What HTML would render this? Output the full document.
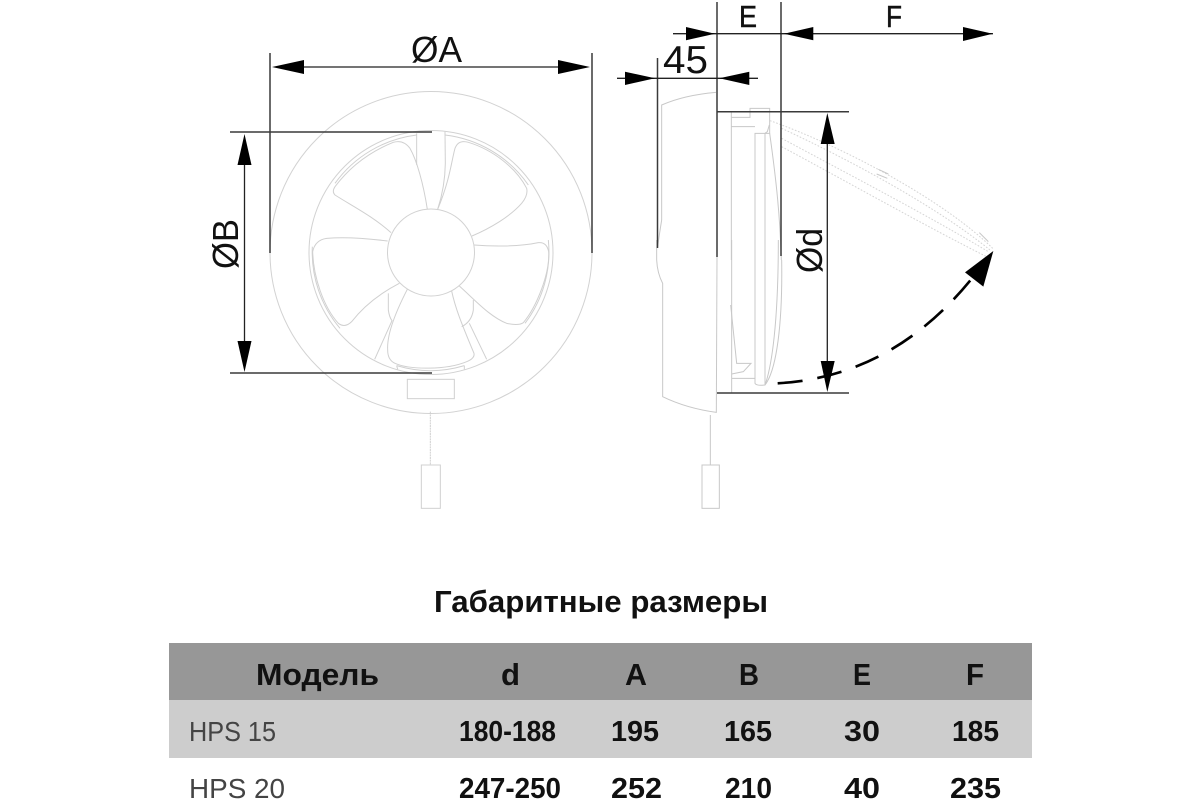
<!DOCTYPE html>
<html><head><meta charset="utf-8"><style>
html,body{margin:0;padding:0;background:#fff;width:1200px;height:800px;overflow:hidden}
svg{display:block}
text{font-family:"Liberation Sans",sans-serif;fill:#111}
.b{font-weight:bold;text-anchor:start;font-size:29px}
.h{font-weight:bold;text-anchor:start;font-size:31px}
.t{font-size:28px;fill:#444}
</style></head><body>
<svg width="1200" height="800" viewBox="0 0 1200 800" xmlns="http://www.w3.org/2000/svg">
<rect width="1200" height="800" fill="#fff"/>

<!-- Front view -->
<g fill="none" stroke="#d2d2d2" stroke-width="1">
<circle cx="431" cy="252.5" r="161"/>
<circle cx="431" cy="252.5" r="43.5"/>
<circle cx="431" cy="252.5" r="122"/>
</g>
<g transform="translate(220,80) scale(.33333)" fill="none" stroke="#d0d0d0" stroke-width="3">
<path d="M622,388 C610,310 590,240 570,205 Q550,178 520,187 C450,215 390,260 345,320 Q335,335 345,345 C400,380 460,410 513,458"/>
<path d="M653,388 C690,300 695,240 705,205 Q715,178 745,187 C820,210 890,265 920,325 Q925,345 905,370 C870,410 810,445 756,468"/>
<path d="M762,495 C820,500 900,500 955,488 Q980,485 986,515 C990,580 950,680 910,728 Q895,738 860,730 C810,710 770,665 718,618"/>
<path d="M695,633 C705,680 720,720 762,820 Q765,835 740,845 C680,870 570,870 525,850 Q503,840 503,810 C500,760 530,690 562,628"/>
<path d="M538,610 C480,640 430,680 395,725 Q375,745 355,730 C310,680 280,590 278,515 Q285,480 320,475 C380,470 440,475 503,483"/>
<path d="M590,160 L590,255 M675,155 L676,250 Q675,320 653,388"/>
<path d="M505,640 L505,690 Q508,712 516,722 L464,838"/>
<path d="M760,660 L760,690 Q755,725 725,740 M748,730 L800,838"/>
<path d="M530,857 L533,868 M733,857 L733,868"/>
<path d="M345,310 A355,355 0 0 1 590,165 M675,165 A355,355 0 0 1 925,315 M985,480 A355,355 0 0 1 915,730 M360,745 A355,355 0 0 1 277,500 M530,857 A355,355 0 0 0 733,857"/>
<rect x="562" y="898" width="141" height="58"/>
<path d="M631,995 L631,1155" stroke-dasharray="6 2"/>
<rect x="604" y="1155" width="57" height="130"/>
</g>

<!-- Front dimensions -->
<g stroke="#3a3a3a" stroke-width="1.500" fill="none">
<path d="M270,53 V253 M592,53 V253 M230,132 H432 M230,373 H432"/>
</g>
<g stroke="#222" stroke-width="1.300" fill="none">
<path d="M300,67 H562 M244.500,160 V345"/>
</g>
<g fill="#000">
<path d="M272,67 L304,60 V74 Z M590,67 L558,60 V74 Z"/>
<path d="M244.500,134 L237.500,165 H251.500 Z M244.500,372 L237.500,341 H251.500 Z"/>
</g>
<text x="411" y="62" font-size="36" textLength="51" lengthAdjust="spacingAndGlyphs">ØA</text>
<text transform="translate(238,269) rotate(-90)" font-size="36" textLength="50" lengthAdjust="spacingAndGlyphs">ØB</text>

<!-- Side view (light) -->
<g transform="translate(610,0) scale(.33333)" fill="none" stroke="#c8c8c8" stroke-width="3">
<path d="M155,660 L155,315 C200,295 260,282 318,277"/>
<path d="M155,660 Q150,690 143,740"/>
<path d="M364,335 V780 M364,352 H420 V325 H479 V400 H435 V780 M364,380 H435 M465,400 V780"/>
<path d="M479,400 C500,550 510,650 514,780"/>
<path d="M465,400 L472,395 L478,375"/>
<g stroke="#d4d4d4" stroke-dasharray="5 5">
<path d="M480,362 C700,440 1000,600 1148,745"/>
<path d="M515,385 C720,480 980,620 1140,750"/>
<path d="M515,415 C720,525 960,650 1135,755"/>
<path d="M515,440 C720,550 950,680 1130,770"/>
</g>
<path d="M805,508 L835,522 M800,522 L832,535 M1108,698 L1135,725"/>
</g>
<g transform="translate(640,240) scale(.33333)" fill="none" stroke="#c8c8c8" stroke-width="3">
<path d="M50,0 V60 Q52,100 68,130 V470 Q140,505 229,517 L231,50"/>
<path d="M275,0 V460"/>
<path d="M272,195 L290,370 H333 L310,395 L275,402 M275,415 H345"/>
<path d="M345,0 V430 Q350,438 375,435 C410,390 428,250 425,60"/>
<path d="M375,0 V435 M375,435 C395,380 415,250 415,0"/>
<path d="M211,525 V675"/>
<rect x="186" y="675" width="52" height="130"/>
</g>

<!-- Side dimensions -->
<g stroke="#3a3a3a" stroke-width="1.500" fill="none">
<path d="M717,2 V257 M781,2 V256 M657.500,58 V248 M717,111.700 H849 M717,393 H849"/>
</g>
<g stroke="#222" stroke-width="1.300" fill="none">
<path d="M673,33.700 H993 M617,78.300 H758 M827.300,140 V365"/>
</g>
<g fill="#000">
<path d="M686,27 V40.300 L715,33.700 Z M813.300,27 V40.300 L784,33.700 Z M963,27 V41 L992.700,33.700 Z"/>
<path d="M625,71.700 V85 L655,78.300 Z M749.300,71.700 V85 L719.300,78.300 Z"/>
<path d="M827.300,113 L820.700,144 H834.700 Z M827.300,392 L820.700,361 H834.700 Z"/>
</g>
<g transform="translate(640,240) scale(.33333)">
<path d="M413,430 Q760,410 1000,110" fill="none" stroke="#000" stroke-width="8" stroke-dasharray="75 45"/>
<path d="M1060,33 L975,97 L1030,140 Z" fill="#000"/>
</g>
<text x="739" y="27" font-size="31" textLength="18" lengthAdjust="spacingAndGlyphs" stroke="#111" stroke-width=".5">E</text>
<text x="886" y="27" font-size="31" textLength="16" lengthAdjust="spacingAndGlyphs" stroke="#111" stroke-width=".5">F</text>
<text x="663" y="73" font-size="39" textLength="45" lengthAdjust="spacingAndGlyphs">45</text>
<text transform="translate(822,273) rotate(-90)" font-size="36" textLength="45" lengthAdjust="spacingAndGlyphs">Ød</text>

<!-- Table -->
<rect x="169" y="643" width="863" height="57" fill="#979797"/>
<rect x="169" y="700" width="863" height="58" fill="#cdcdcd"/>
<text x="434" y="612" font-size="31" font-weight="bold" textLength="334" lengthAdjust="spacingAndGlyphs" fill="#222">Габаритные размеры</text>

<text class="h" x="256" y="685" textLength="123" lengthAdjust="spacingAndGlyphs">Модель</text>
<text class="h" x="501" y="685" textLength="19" lengthAdjust="spacingAndGlyphs">d</text>
<text class="h" x="625" y="685" textLength="22" lengthAdjust="spacingAndGlyphs">A</text>
<text class="h" x="739" y="685" textLength="20" lengthAdjust="spacingAndGlyphs">B</text>
<text class="h" x="853" y="685" textLength="18" lengthAdjust="spacingAndGlyphs">E</text>
<text class="h" x="966" y="685" textLength="18" lengthAdjust="spacingAndGlyphs">F</text>

<text class="t" x="189" y="741" textLength="87" lengthAdjust="spacingAndGlyphs">HPS 15</text>
<text class="b" x="459" y="741" textLength="97" lengthAdjust="spacingAndGlyphs">180-188</text>
<text class="b" x="611" y="741" textLength="48" lengthAdjust="spacingAndGlyphs">195</text>
<text class="b" x="724" y="741" textLength="48" lengthAdjust="spacingAndGlyphs">165</text>
<text class="b" x="844" y="741" textLength="36" lengthAdjust="spacingAndGlyphs">30</text>
<text class="b" x="952" y="741" textLength="47" lengthAdjust="spacingAndGlyphs">185</text>

<text class="t" x="189" y="798" textLength="96" lengthAdjust="spacingAndGlyphs">HPS 20</text>
<text class="b" x="459" y="798" textLength="102" lengthAdjust="spacingAndGlyphs">247-250</text>
<text class="b" x="611" y="798" textLength="51" lengthAdjust="spacingAndGlyphs">252</text>
<text class="b" x="725" y="798" textLength="47" lengthAdjust="spacingAndGlyphs">210</text>
<text class="b" x="844" y="798" textLength="36" lengthAdjust="spacingAndGlyphs">40</text>
<text class="b" x="950" y="798" textLength="51" lengthAdjust="spacingAndGlyphs">235</text>
</svg>
</body></html>
